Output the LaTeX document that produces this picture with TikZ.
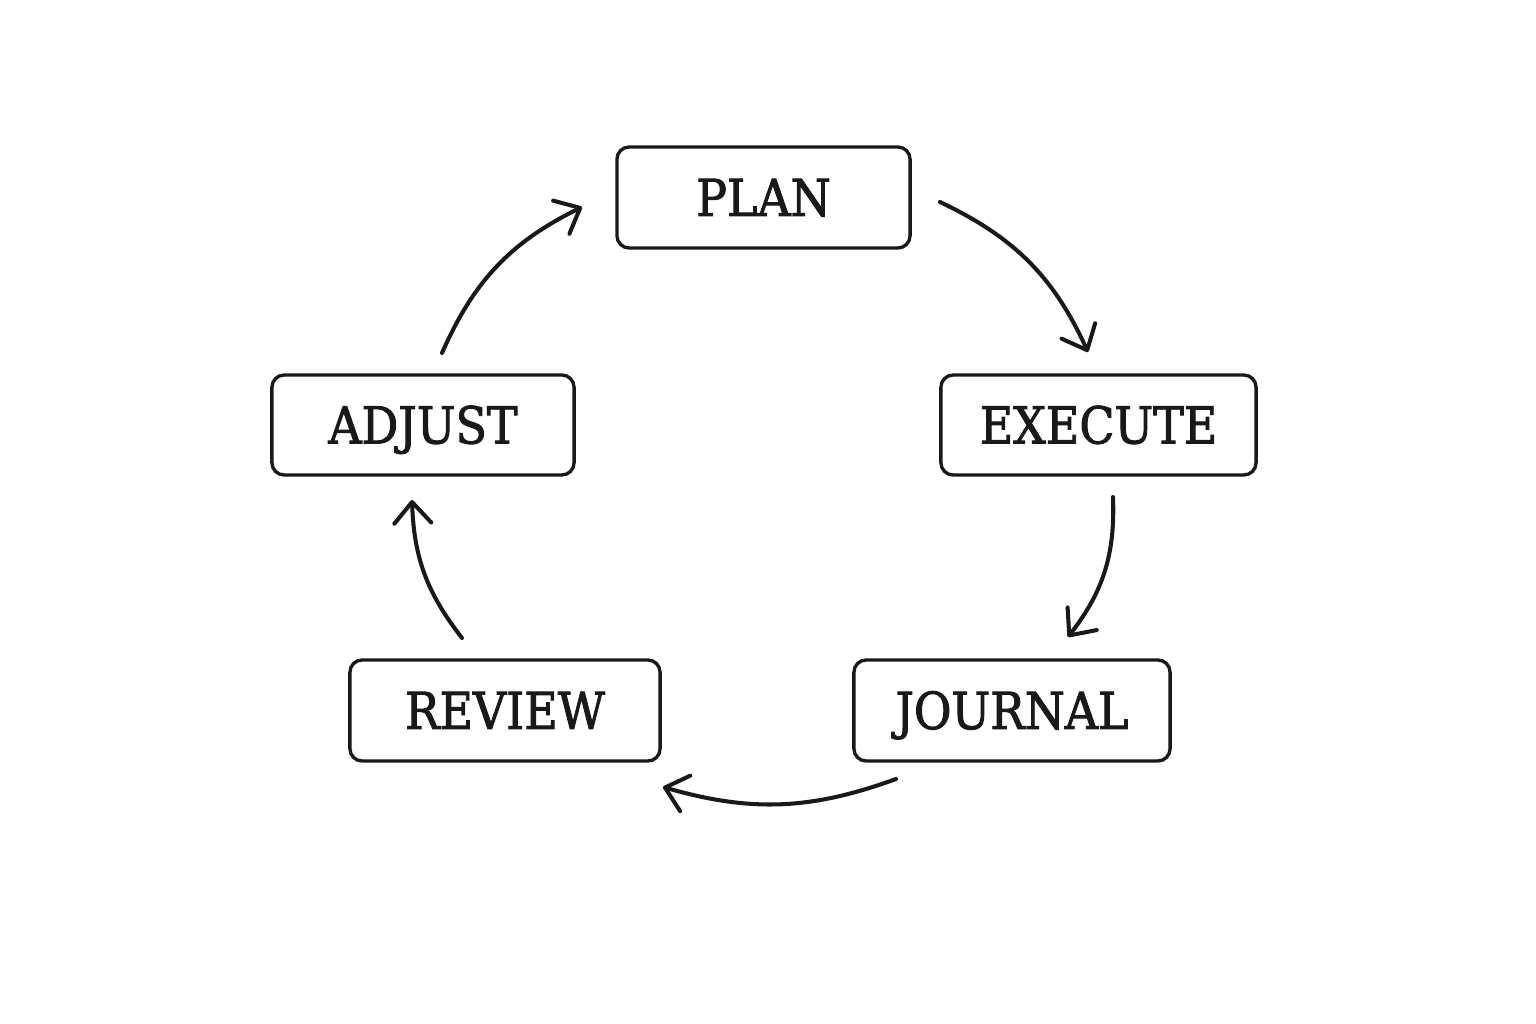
\documentclass[tikz,border=0pt]{standalone}
\usepackage{fontspec}
\setmainfont[FakeStretch=0.9,FakeBold=1.8]{DejaVu Serif}
\usetikzlibrary{arrows.meta}
\begin{document}
\begin{tikzpicture}[x=0.01cm,y=-0.01cm,
  box/.style={draw=black!90, line width=0.95pt, rounded corners=3.5pt, inner sep=0pt,
    text height=10.5pt, text depth=0pt, font=\fontsize{14.5}{16}\selectfont, text=black!90},
  conn/.style={line width=1.15pt, draw=black!90, line cap=round,
    -{Straight Barb[length=6pt,width=10.5pt,line width=1.15pt,round]}}]
\useasboundingbox (0,0) rectangle (1536,1024);
\node[box, minimum width=2.93cm, minimum height=1.01cm] (plan) at (763.5,197.5) {PLAN};
\node[box, minimum width=3.15cm, minimum height=1.00cm] (execute) at (1098.5,425) {EXECUTE};
\node[box, minimum width=3.16cm, minimum height=1.01cm] (journal) at (1012,710.5) {JOURNAL};
\node[box, minimum width=3.10cm, minimum height=1.01cm] (review) at (505,710.5) {REVIEW};
\node[box, minimum width=3.02cm, minimum height=1.00cm] (adjust) at (423,425) {ADJUST};
\coordinate (a1s) at (940,202);  \coordinate (a1e) at (1088,352);
\coordinate (a2s) at (1113,497); \coordinate (a2e) at (1068,637);
\coordinate (a3s) at (896,779);  \coordinate (a3e) at (663,787);
\coordinate (a4s) at (462,638);  \coordinate (a4e) at (412,500);
\coordinate (a5s) at (442,353);  \coordinate (a5e) at (582,207);
\draw[conn] (a1s) to[bend left=20] (a1e);
\draw[conn] (a2s) to[bend left=20] (a2e);
\draw[conn] (a3s) to[bend left=18] (a3e);
\draw[conn] (a4s) to[bend left=18] (a4e);
\draw[conn] (a5s) to[bend left=20] (a5e);
\end{tikzpicture}
\end{document}
